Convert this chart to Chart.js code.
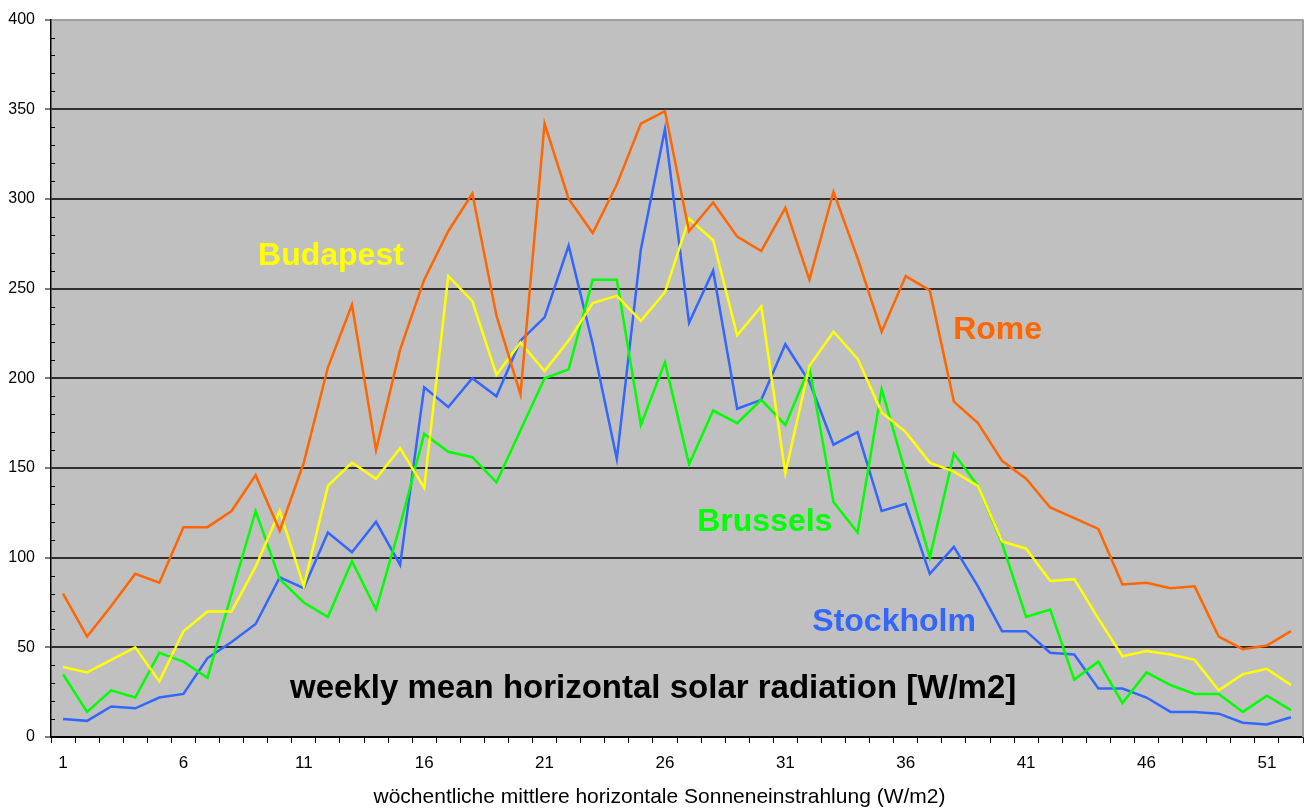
<!DOCTYPE html>
<html>
<head>
<meta charset="utf-8">
<title>weekly mean horizontal solar radiation</title>
<script src="https://cdn.jsdelivr.net/npm/chart.js@4.4.3/dist/chart.umd.min.js"></script>
<style>
    html, body { margin: 0; padding: 0; background: #fff; }
    canvas { display: block; }
</style>
</head>
<body>
<canvas id="chart" width="1313" height="809"></canvas>
<script>
// --- data ---
const weeks = ['1','2','3','4','5','6','7','8','9','10','11','12','13','14','15','16','17','18','19','20',
    '21','22','23','24','25','26','27','28','29','30','31','32','33','34','35','36','37','38','39','40',
    '41','42','43','44','45','46','47','48','49','50','51','52'];

const rome = [80, 56, 73, 91, 86, 117, 117, 126, 146, 115, 153, 206, 241, 160, 216, 255, 282, 303, 235, 191,
    342, 300, 281, 308, 342, 349, 282, 298, 279, 271, 295, 255, 304, 267, 226, 257, 249, 187, 175, 154,
    144, 128, 122, 116, 85, 86, 83, 84, 56, 49, 51, 59];

const budapest = [39, 36, 43, 50, 31, 59, 70, 70, 95, 126, 84, 140, 153, 144, 161, 139, 257, 243, 202, 220,
    204, 221, 242, 246, 232, 248, 289, 277, 224, 240, 147, 207, 226, 211, 181, 170, 153, 148, 140, 109,
    105, 87, 88, 66, 45, 48, 46, 43, 26, 35, 38, 29];

const brussels = [35, 14, 26, 22, 47, 42, 33, 80, 126, 88, 75, 67, 98, 71, 118, 169, 159, 156, 142, 171,
    200, 205, 255, 255, 174, 209, 152, 182, 175, 188, 174, 206, 131, 114, 194, 147, 100, 158, 140, 108,
    67, 71, 32, 42, 19, 36, 29, 24, 24, 14, 23, 15];

const stockholm = [10, 9, 17, 16, 22, 24, 44, 53, 63, 89, 83, 114, 103, 120, 96, 195, 184, 200, 190, 221,
    234, 274, 219, 155, 272, 339, 231, 260, 183, 188, 219, 198, 163, 170, 126, 130, 91, 106, 84, 59,
    59, 47, 46, 27, 27, 22, 14, 14, 13, 8, 7, 11];

const yMin = 0;
const yMax = 400;
const yStep = 50;
const yMinorStep = 10;

const xTitle = 'wöchentliche mittlere horizontale Sonneneinstrahlung (W/m2)';

// labels written inside the plot (week / value give the left edge and middle)
const notes = [
    { text: 'Budapest', color: '#ffff00', week: 9.1, value: 268, size: 32 },
    { text: 'Rome', color: '#ff6600', week: 37.97, value: 227, size: 32 },
    { text: 'Brussels', color: '#00ff00', week: 27.34, value: 120, size: 32 },
    { text: 'Stockholm', color: '#3366ff', week: 32.12, value: 64, size: 32 },
    { text: 'weekly mean horizontal solar radiation [W/m2]', color: '#000000', week: 10.43, value: 27, size: 33 }
];

const FONT = '"Liberation Sans", Arial, sans-serif';

// background, frame, minor ticks and the text labels
const framePlugin = {
    id: 'frame',
    beforeDraw(chart) {
        const { ctx, chartArea: a } = chart;
        ctx.save();
        ctx.fillStyle = '#ffffff';
        ctx.fillRect(0, 0, chart.width, chart.height);
        ctx.fillStyle = '#c0c0c0';
        ctx.fillRect(a.left, a.top, a.right - a.left, a.bottom - a.top);
        ctx.restore();
    },
    beforeDatasetsDraw(chart) {
        const { ctx, chartArea: a } = chart;
        const y = chart.scales.y;
        ctx.save();
        // right edge of the plot
        ctx.strokeStyle = '#a0a0a0';
        ctx.lineWidth = 2;
        ctx.beginPath();
        ctx.moveTo(a.right, a.top);
        ctx.lineTo(a.right, a.bottom);
        ctx.stroke();
        // minor ticks inside the y axis
        ctx.strokeStyle = '#000';
        ctx.lineWidth = 1;
        for (let v = yMin; v <= yMax; v += yMinorStep) {
            if (v % yStep === 0) continue;
            const py = Math.round(y.getPixelForValue(v)) + 0.5;
            ctx.beginPath();
            ctx.moveTo(a.left, py);
            ctx.lineTo(a.left + 4, py);
            ctx.stroke();
        }
        ctx.restore();
    },
    afterDatasetsDraw(chart) {
        const { ctx } = chart;
        const x = chart.scales.x;
        const y = chart.scales.y;
        ctx.save();
        ctx.textAlign = 'left';
        ctx.textBaseline = 'middle';
        notes.forEach(n => {
            ctx.font = 'bold ' + n.size + 'px ' + FONT;
            ctx.fillStyle = n.color;
            ctx.fillText(n.text, x.getPixelForValue(n.week - 1), y.getPixelForValue(n.value));
        });
        // axis title, centred on the whole picture
        ctx.font = '21px ' + FONT;
        ctx.fillStyle = '#000';
        ctx.textAlign = 'center';
        ctx.fillText(xTitle, chart.width / 2 + 3, 797);
        ctx.restore();
    }
};

new Chart(document.getElementById('chart'), {
    type: 'line',
    data: {
        labels: weeks,
        datasets: [
            { label: 'Rome', data: rome, borderColor: '#ff6600' },
            { label: 'Budapest', data: budapest, borderColor: '#ffff00' },
            { label: 'Brussels', data: brussels, borderColor: '#00ff00' },
            { label: 'Stockholm', data: stockholm, borderColor: '#3366ff' }
        ]
    },
    options: {
        responsive: false,
        animation: false,
        layout: { padding: { top: 17, right: 10, left: 0, bottom: 0 } },
        elements: {
            point: { radius: 0 },
            line: { borderWidth: 2.5, tension: 0, fill: false }
        },
        plugins: {
            legend: { display: false },
            tooltip: { enabled: false }
        },
        scales: {
            x: {
                type: 'category',
                offset: true,
                grid: {
                    offset: true,
                    drawOnChartArea: false,
                    drawTicks: true,
                    tickLength: 6,
                    color: '#000',
                    tickColor: '#000'
                },
                border: { color: '#000', width: 1.5 },
                ticks: {
                    autoSkip: false,
                    maxRotation: 0,
                    padding: 10,
                    color: '#000',
                    font: { family: FONT, size: 17 },
                    callback: (v, i) => (i % 5 === 0 ? weeks[i] : '')
                },
                afterFit: (s) => { s.height = 72; }
            },
            y: {
                min: yMin,
                max: yMax,
                grid: {
                    color: (c) => c.tick.value === yMax ? '#a0a0a0' : (c.tick.value === yMin ? '#000' : '#303030'),
                    lineWidth: 2,
                    tickLength: 6,
                    tickColor: '#000',
                    tickWidth: 1
                },
                border: { color: '#000', width: 1.5 },
                ticks: {
                    stepSize: yStep,
                    padding: 10,
                    color: '#000',
                    font: { family: FONT, size: 16 }
                },
                afterFit: (s) => { s.width = 51; }
            }
        }
    },
    plugins: [framePlugin]
});
</script>
</body>
</html>
